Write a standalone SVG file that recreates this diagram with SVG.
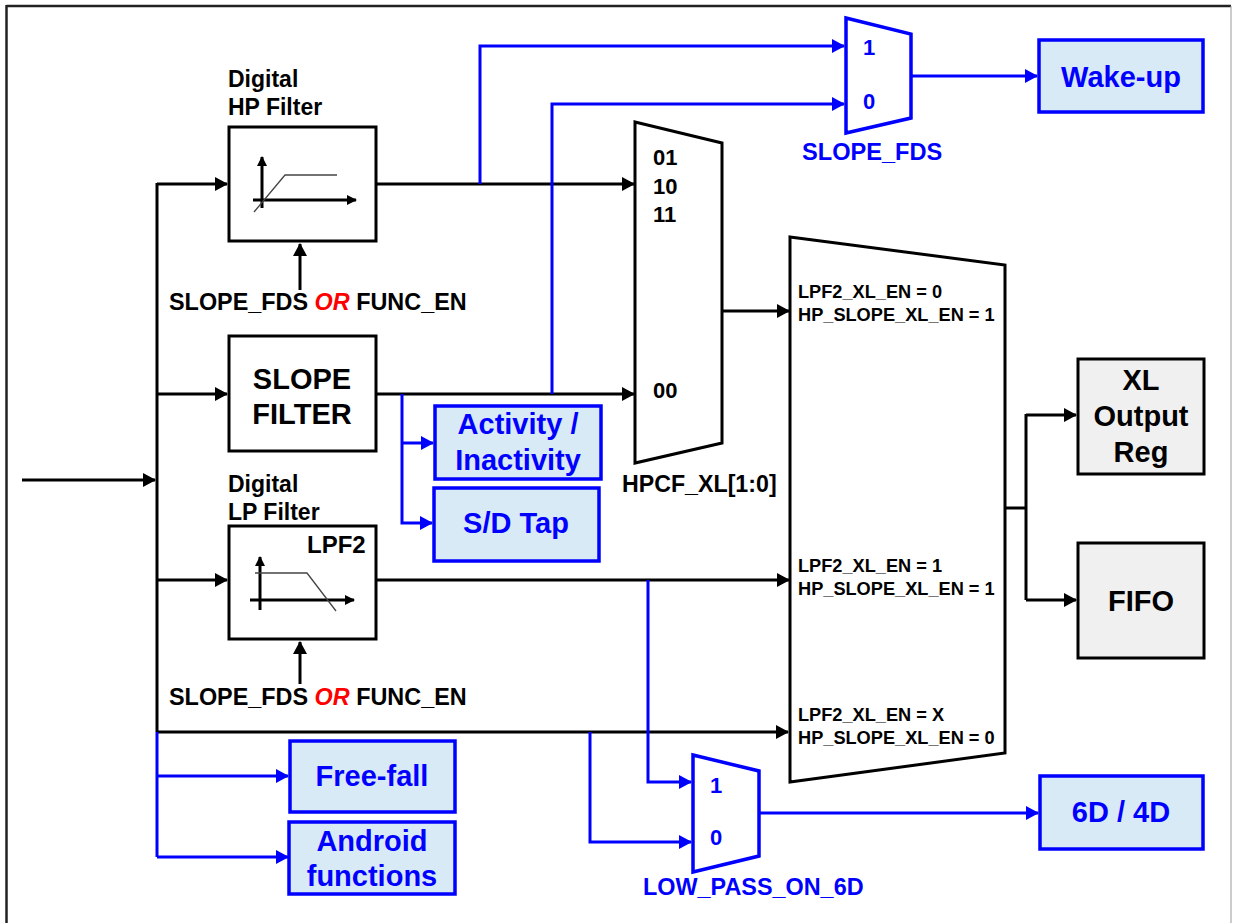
<svg xmlns="http://www.w3.org/2000/svg" width="1233" height="923" viewBox="0 0 1233 923">
<style>
text{font-family:"Liberation Sans",Arial,sans-serif;font-weight:bold;}
.blk{fill:#fff;stroke:#000;stroke-width:3;}
.gry{fill:#f0f0f0;stroke:#000;stroke-width:3;}
.blu{fill:#d9eaf7;stroke:#0000ff;stroke-width:3.5;}
.bmux{fill:#fff;stroke:#0000ff;stroke-width:3.5;}
.cb{fill:none;stroke:#000;stroke-width:3;}
.cu{fill:none;stroke:#0000ff;stroke-width:3;}
.t29{font-size:29px;text-anchor:middle;}
.tb{fill:#0000ff;}
.thin{fill:none;stroke:#444;stroke-width:1.3;}
</style>
<defs>
<marker id="ab" markerUnits="userSpaceOnUse" markerWidth="14" markerHeight="14" refX="12" refY="7" orient="auto"><path d="M0,0 L13,7 L0,14 Z" fill="#000"/></marker>
<marker id="au" markerUnits="userSpaceOnUse" markerWidth="14" markerHeight="14" refX="12" refY="7" orient="auto"><path d="M0,0 L13,7 L0,14 Z" fill="#0000ff"/></marker>
<marker id="as" markerUnits="userSpaceOnUse" markerWidth="10" markerHeight="10" refX="9" refY="5" orient="auto"><path d="M0,0 L10,5 L0,10 Z" fill="#000"/></marker>
</defs>
<rect width="1233" height="923" fill="#fff"/>
<g id="frame">
<line x1="6.5" y1="6" x2="1231" y2="6" stroke="#222" stroke-width="2.5"/>
<line x1="6.5" y1="5" x2="6.5" y2="923" stroke="#222" stroke-width="2.5"/>
<line x1="1231" y1="6" x2="1231" y2="923" stroke="#999" stroke-width="1"/>
</g>
<g id="connectors">
<path class="cb" d="M22,480 H155" marker-end="url(#ab)"/>
<path class="cb" d="M157,183 V732"/>
<path class="cb" d="M157,184 H227" marker-end="url(#ab)"/>
<path class="cb" d="M157,394 H227" marker-end="url(#ab)"/>
<path class="cb" d="M157,580 H227" marker-end="url(#ab)"/>
<path class="cb" d="M157,732 H788" marker-end="url(#ab)"/>
<path class="cu" d="M157,732 V857"/>
<path class="cu" d="M157,776 H288" marker-end="url(#au)"/>
<path class="cu" d="M157,857 H288" marker-end="url(#au)"/>
<path class="cb" d="M300,290 V244" marker-end="url(#ab)"/>
<path class="cb" d="M300,684 V642" marker-end="url(#ab)"/>
<path class="cb" d="M377,184 H634" marker-end="url(#ab)"/>
<path class="cu" d="M480,184 V46 H844" marker-end="url(#au)"/>
<path class="cb" d="M377,394 H634" marker-end="url(#ab)"/>
<path class="cu" d="M552,394 V104 H844" marker-end="url(#au)"/>
<path class="cu" d="M402,394 V523 H432" marker-end="url(#au)"/>
<path class="cu" d="M402,443 H433" marker-end="url(#au)"/>
<path class="cb" d="M722,311 H789" marker-end="url(#ab)"/>
<path class="cb" d="M377,580 H789" marker-end="url(#ab)"/>
<path class="cu" d="M648,580 V782 H691" marker-end="url(#au)"/>
<path class="cu" d="M590,732 V842 H691" marker-end="url(#au)"/>
<path class="cu" d="M759,813 H1038" marker-end="url(#au)"/>
<path class="cu" d="M912,76 H1037" marker-end="url(#au)"/>
<path class="cb" d="M1005,508 H1026"/>
<path class="cb" d="M1026,414 V600"/>
<path class="cb" d="M1026,415 H1076" marker-end="url(#ab)"/>
<path class="cb" d="M1026,600 H1076" marker-end="url(#ab)"/>
</g>
<g id="hp-filter">
<text x="228" y="87" font-size="23">Digital</text>
<text x="228" y="115" font-size="23">HP Filter</text>
<rect class="blk" x="229" y="127" width="147" height="114"/>
<path d="M262,208 V157" stroke="#000" stroke-width="3" marker-end="url(#as)"/>
<path d="M253,200 H356" stroke="#000" stroke-width="3" marker-end="url(#as)"/>
<path class="thin" d="M254,212 L285,175 H337"/>
<text x="169" y="310" font-size="23.4">SLOPE_FDS <tspan fill="#ff0000" font-style="italic">OR</tspan> FUNC_EN</text>
</g>
<g id="slope-filter">
<rect class="blk" x="229" y="336" width="147" height="115"/>
<text x="302" y="389" class="t29">SLOPE</text>
<text x="302" y="424" class="t29">FILTER</text>
</g>
<g id="lp-filter">
<text x="228" y="492" font-size="23">Digital</text>
<text x="228" y="520" font-size="23">LP Filter</text>
<rect class="blk" x="229" y="526" width="147" height="113"/>
<text x="307" y="553" font-size="24">LPF2</text>
<path d="M260,610 V557" stroke="#000" stroke-width="3" marker-end="url(#as)"/>
<path d="M250,600 H354" stroke="#000" stroke-width="3" marker-end="url(#as)"/>
<path class="thin" d="M255,573 H307 L336,611"/>
<text x="169" y="705" font-size="23.4">SLOPE_FDS <tspan fill="#ff0000" font-style="italic">OR</tspan> FUNC_EN</text>
</g>
<g id="activity">
<rect class="blu" x="435" y="406" width="166" height="73"/>
<text x="518" y="434" class="t29 tb">Activity /</text>
<text x="518" y="470" class="t29 tb">Inactivity</text>
</g>
<g id="sd-tap">
<rect class="blu" x="434" y="488" width="165" height="73"/>
<text x="516" y="533" class="t29 tb">S/D Tap</text>
</g>
<g id="hpcf-mux">
<path class="blk" d="M635,122 L722,143 V443 L635,463 Z"/>
<text x="653" y="165" font-size="22">01</text>
<text x="653" y="194" font-size="22">10</text>
<text x="653" y="222" font-size="22">11</text>
<text x="653" y="398" font-size="22">00</text>
<text x="622" y="492" font-size="23.2">HPCF_XL[1:0]</text>
</g>
<g id="slope-fds-mux">
<path class="bmux" d="M846,18 L911,34 V118 L846,133 Z"/>
<text x="863" y="55" font-size="22" class="tb">1</text>
<text x="863" y="109" font-size="22" class="tb">0</text>
<text x="802" y="160" font-size="23.6" class="tb">SLOPE_FDS</text>
</g>
<g id="wake-up">
<rect class="blu" x="1039" y="40" width="164" height="72"/>
<text x="1121" y="87" class="t29 tb">Wake-up</text>
</g>
<g id="output-mux">
<path class="blk" d="M790,237 L1005,265 V753 L790,782 Z"/>
<g font-size="18.2">
<text x="798" y="298">LPF2_XL_EN = 0</text>
<text x="798" y="321">HP_SLOPE_XL_EN = 1</text>
<text x="798" y="572">LPF2_XL_EN = 1</text>
<text x="798" y="595">HP_SLOPE_XL_EN = 1</text>
<text x="798" y="721">LPF2_XL_EN = X</text>
<text x="798" y="744">HP_SLOPE_XL_EN = 0</text>
</g>
</g>
<g id="xl-output-reg">
<rect class="gry" x="1078" y="359" width="126" height="115"/>
<text x="1141" y="390" class="t29">XL</text>
<text x="1141" y="426" class="t29">Output</text>
<text x="1141" y="462" class="t29">Reg</text>
</g>
<g id="fifo">
<rect class="gry" x="1078" y="543" width="126" height="115"/>
<text x="1141" y="611" class="t29">FIFO</text>
</g>
<g id="low-pass-mux">
<path class="bmux" d="M693,755 L759,771 V856 L693,872 Z"/>
<text x="710" y="793" font-size="22" class="tb">1</text>
<text x="710" y="845" font-size="22" class="tb">0</text>
<text x="643" y="895" font-size="23.4" class="tb">LOW_PASS_ON_6D</text>
</g>
<g id="six-d">
<rect class="blu" x="1040" y="776" width="163" height="73"/>
<text x="1121" y="822" class="t29 tb">6D / 4D</text>
</g>
<g id="free-fall">
<rect class="blu" x="290" y="741" width="165" height="71"/>
<text x="372" y="786" class="t29 tb">Free-fall</text>
</g>
<g id="android">
<rect class="blu" x="289" y="822" width="166" height="72"/>
<text x="372" y="851" class="t29 tb">Android</text>
<text x="372" y="886" class="t29 tb">functions</text>
</g>
</svg>
